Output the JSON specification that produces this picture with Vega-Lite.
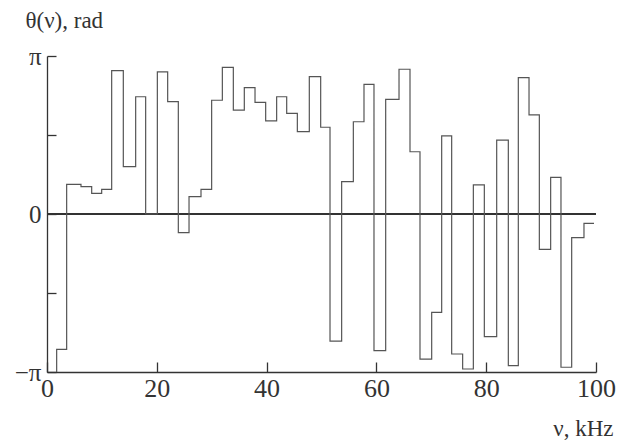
{
  "$schema": "https://vega.github.io/schema/vega-lite/v6.json",
  "width": 549,
  "height": 316,
  "autosize": {"type": "none"},
  "padding": {"left": 47, "top": 56, "right": 26, "bottom": 70},
  "background": "white",
  "config": {
    "view": {"stroke": null},
    "axis": {
      "labelFont": "Liberation Serif",
      "titleFont": "Liberation Serif",
      "labelColor": "#333",
      "titleColor": "#333",
      "domainColor": "#333",
      "tickColor": "#333",
      "domainWidth": 1.3,
      "tickWidth": 1.3,
      "grid": false,
      "labelFlush": false,
      "labelFontSize": 25,
      "titleFontSize": 23,
      "titleFontWeight": "normal"
    }
  },
  "data": {
    "values": [
      {"i": 0, "nu": 1.76, "theta": -1},
      {"i": 1, "nu": 1.76, "theta": -0.857},
      {"i": 2, "nu": 3.58, "theta": 0.188},
      {"i": 3, "nu": 6.19, "theta": 0.173},
      {"i": 4, "nu": 8.14, "theta": 0.131},
      {"i": 5, "nu": 9.96, "theta": 0.156},
      {"i": 6, "nu": 11.78, "theta": 0.907},
      {"i": 7, "nu": 13.9, "theta": 0.3},
      {"i": 8, "nu": 16.15, "theta": 0.742},
      {"i": 9, "nu": 17.97, "theta": 0.0},
      {"i": 10, "nu": 20.1, "theta": 0.9},
      {"i": 11, "nu": 21.98, "theta": 0.711},
      {"i": 12, "nu": 23.92, "theta": -0.118},
      {"i": 13, "nu": 25.87, "theta": 0.11},
      {"i": 14, "nu": 28.05, "theta": 0.156},
      {"i": 15, "nu": 29.99, "theta": 0.72},
      {"i": 16, "nu": 31.94, "theta": 0.928},
      {"i": 17, "nu": 33.94, "theta": 0.658},
      {"i": 18, "nu": 35.94, "theta": 0.8},
      {"i": 19, "nu": 37.89, "theta": 0.707},
      {"i": 20, "nu": 39.83, "theta": 0.589},
      {"i": 21, "nu": 41.83, "theta": 0.742},
      {"i": 22, "nu": 43.66, "theta": 0.637},
      {"i": 23, "nu": 45.6, "theta": 0.521},
      {"i": 24, "nu": 47.78, "theta": 0.869},
      {"i": 25, "nu": 49.85, "theta": 0.549},
      {"i": 26, "nu": 51.55, "theta": -0.804},
      {"i": 27, "nu": 53.67, "theta": 0.205},
      {"i": 28, "nu": 55.8, "theta": 0.584},
      {"i": 29, "nu": 57.74, "theta": 0.821},
      {"i": 30, "nu": 59.56, "theta": -0.865},
      {"i": 31, "nu": 61.69, "theta": 0.726},
      {"i": 32, "nu": 64.12, "theta": 0.916},
      {"i": 33, "nu": 66.12, "theta": 0.394},
      {"i": 34, "nu": 67.94, "theta": -0.918},
      {"i": 35, "nu": 70.07, "theta": -0.622},
      {"i": 36, "nu": 71.89, "theta": 0.494},
      {"i": 37, "nu": 73.71, "theta": -0.886},
      {"i": 38, "nu": 75.71, "theta": -0.981},
      {"i": 39, "nu": 77.66, "theta": 0.184},
      {"i": 40, "nu": 79.66, "theta": -0.776},
      {"i": 41, "nu": 81.91, "theta": 0.468},
      {"i": 42, "nu": 84.03, "theta": -0.96},
      {"i": 43, "nu": 85.85, "theta": 0.863},
      {"i": 44, "nu": 87.8, "theta": 0.627},
      {"i": 45, "nu": 89.68, "theta": -0.224},
      {"i": 46, "nu": 91.74, "theta": 0.232},
      {"i": 47, "nu": 93.62, "theta": -0.97},
      {"i": 48, "nu": 95.57, "theta": -0.15},
      {"i": 49, "nu": 97.81, "theta": -0.059},
      {"i": 50, "nu": 99.64, "theta": -0.059}
    ]
  },
  "layer": [
    {
      "mark": {"type": "rule", "color": "#333", "strokeWidth": 1.4},
      "encoding": {
        "y": {"datum": 0, "type": "quantitative"},
        "x": {"datum": 0, "type": "quantitative"},
        "x2": {"datum": 100}
      }
    },
    {
      "mark": {"type": "line", "interpolate": "step-after", "color": "#555", "strokeWidth": 1.2},
      "encoding": {
        "x": {
          "field": "nu",
          "type": "quantitative",
          "scale": {"domain": [0, 100], "nice": false, "zero": false},
          "axis": {
            "values": [0, 20, 40, 60, 80, 100],
            "tickSize": -10,
            "labelPadding": 13,
            "labelFontSize": 26,
            "title": "ν, kHz",
            "titleX": 566,
            "titleY": 63,
            "titleAlign": "right",
            "titleBaseline": "alphabetic"
          }
        },
        "y": {
          "field": "theta",
          "type": "quantitative",
          "scale": {"domain": [-1, 1], "nice": false, "zero": false},
          "axis": {
            "values": [-1, -0.5, 0, 0.5, 1],
            "labelExpr": "datum.value == 1 ? 'π' : datum.value == -1 ? '−π' : datum.value == 0 ? '0' : ''",
            "tickSize": -9,
            "labelPadding": 15,
            "title": "θ(ν), rad",
            "titleAngle": 0,
            "titleX": -22,
            "titleY": -29,
            "titleAlign": "left",
            "titleBaseline": "alphabetic"
          }
        },
        "order": {"field": "i", "type": "quantitative"}
      }
    }
  ]
}
